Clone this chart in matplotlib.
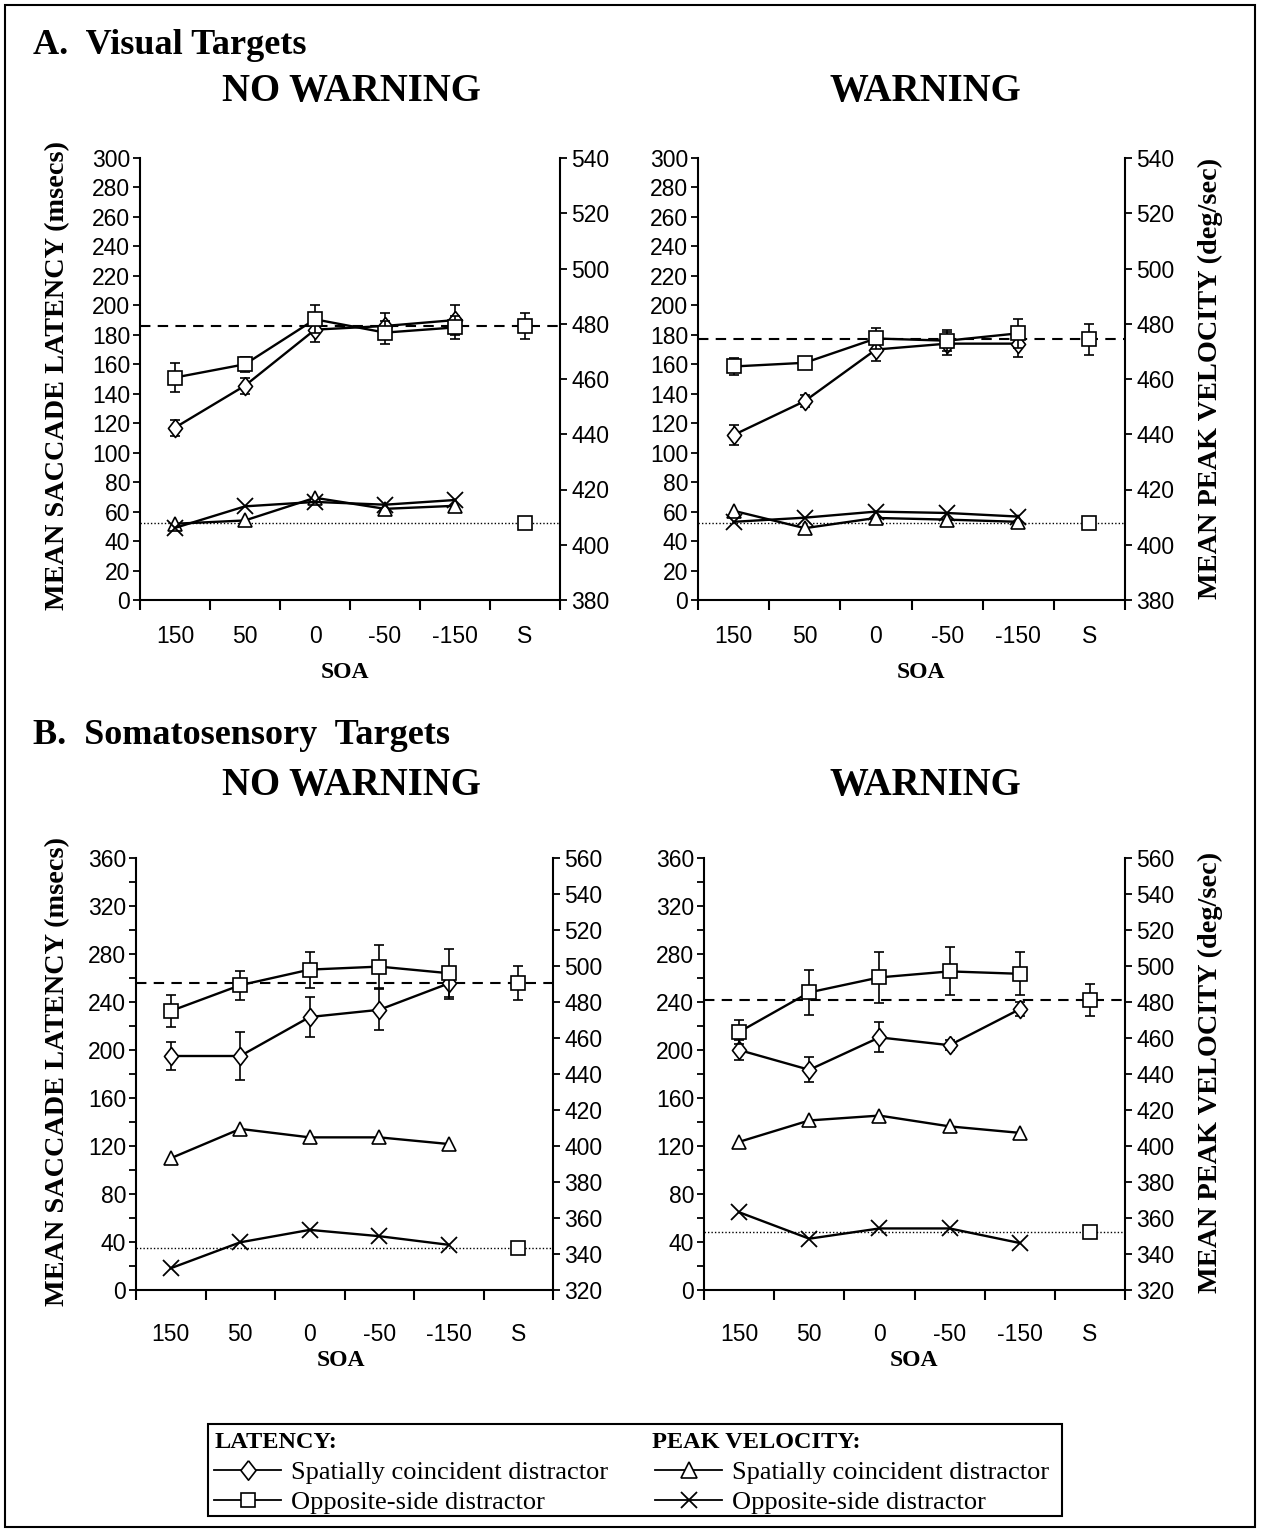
import matplotlib
matplotlib.use('Agg')
import matplotlib.pyplot as plt
from matplotlib.lines import Line2D
from matplotlib.patches import Rectangle
import numpy as np

plt.rcParams['font.family'] = ['Liberation Sans', 'DejaVu Sans']

# ---------------- data ----------------
soa_labels = ['150', '50', '0', '-50', '-150', 'S']

# A. Visual targets, NO WARNING
a_nw_lat_coinc = [117, 145.5, 183.5, 186, 190]
a_nw_lat_coinc_err = [5.5, 5.5, 8.5, 9, 10]
a_nw_lat_opp = [151, 160, 190.5, 181.5, 185]
a_nw_lat_opp_err = [10, 5, 9.5, 8, 8]
a_nw_lat_single = 186
a_nw_lat_single_err = 9
a_nw_vel_coinc = [407.6, 408.8, 417.0, 413.0, 414.1]
a_nw_vel_opp = [406.1, 413.9, 415.5, 414.5, 416.2]
a_nw_vel_single = 407.8

# A. Visual targets, WARNING
a_w_lat_coinc = [112, 135, 170, 174, 174]
a_w_lat_coinc_err = [6.5, 4, 8, 8, 9]
a_w_lat_opp = [158.5, 161, 177.5, 176, 181]
a_w_lat_opp_err = [6, 2, 7, 7, 10]
a_w_lat_single = 177
a_w_lat_single_err = 10.5
a_w_vel_coinc = [412.3, 406.0, 409.7, 409.1, 408.3]
a_w_vel_opp = [408.3, 409.8, 412.0, 411.5, 410.2]
a_w_vel_single = 407.8

# B. Somatosensory targets, NO WARNING
b_nw_lat_coinc = [195, 195, 227.5, 233.5, 255.5]
b_nw_lat_coinc_err = [12, 20, 17, 17, 13]
b_nw_lat_opp = [232.5, 254, 267, 269.5, 264]
b_nw_lat_opp_err = [13.5, 12, 15, 18, 20]
b_nw_lat_single = 256
b_nw_lat_single_err = 14
b_nw_vel_coinc = [393.2, 409.5, 404.8, 404.8, 401.1]
b_nw_vel_opp = [332.1, 346.5, 353.4, 349.9, 345.1]
b_nw_vel_single = 343.5

# B. Somatosensory targets, WARNING
b_w_lat_coinc = [200, 183.5, 210.5, 204, 234]
b_w_lat_coinc_err = [8, 10.5, 12.5, 4, 6]
b_w_lat_opp = [215, 248, 260.5, 265.5, 263.5]
b_w_lat_opp_err = [10, 19, 21.5, 20, 18]
b_w_lat_single = 241.5
b_w_lat_single_err = 13.5
b_w_vel_coinc = [402.3, 414.2, 416.9, 410.9, 407.3]
b_w_vel_opp = [363.2, 348.5, 354.2, 354.2, 346.1]
b_w_vel_single = 352

# ---------------- figure ----------------
W, H = 1261, 1531
fig = plt.figure(figsize=(W / 100, H / 100), dpi=100)

SERIF = ['Liberation Serif', 'DejaVu Serif']
TICKFS = 16.5
LW = 1.7
DIAMOND = [(0, 1), (0.78, 0), (0, -1), (-0.78, 0), (0, 1)]


def fx(px):
    return px / W


def fy(py):
    return 1 - py / H


def rect(x0, y0, x1, y1):
    return [fx(x0), fy(y1), fx(x1) - fx(x0), (y1 - y0) / H]


def panel(r, lat_lim, lat_major, lat_minor, vel_lim, vel_ticks,
          lat_c, lat_c_err, lat_o, lat_o_err, lat_s, lat_s_err,
          vel_c, vel_o, vel_s, xpad):
    ax = fig.add_axes(r)
    n = len(lat_c)
    x = np.arange(n) + 0.5
    xs = n + 0.5
    ax.set_xlim(0, n + 1)
    ax.set_ylim(*lat_lim)

    ax.axhline(lat_s, color='k', lw=1.5, ls=(0, (5, 3.5)), zorder=1)

    common = dict(color='k', mfc='white', mec='k', mew=1.2,
                  ecolor='k', elinewidth=1.2, capsize=3.5, capthick=1.2)
    ax.errorbar(x, lat_c, yerr=lat_c_err, marker=DIAMOND, ms=13, lw=LW,
                zorder=3, **common)
    ax.errorbar(x, lat_o, yerr=lat_o_err, marker='s', ms=10, lw=LW,
                zorder=4, **common)
    ax.errorbar([xs], [lat_s], yerr=[lat_s_err], marker='s', ms=10,
                ls='none', zorder=4, **common)

    ax2 = ax.twinx()
    ax2.set_ylim(*vel_lim)
    ax2.axhline(vel_s, color='k', lw=1.0, ls=(0, (1, 1.5)), zorder=1)
    ax2.plot(x, vel_c, color='k', lw=LW, marker='^', ms=10, mfc='white',
             mec='k', mew=1.2, zorder=3)
    ax2.plot(x, vel_o, color='k', lw=LW, marker='x', ms=11, mec='k',
             mew=1.3, zorder=3)
    ax2.plot([xs], [vel_s], ls='none', marker='s', ms=10, mfc='white',
             mec='k', mew=1.2, zorder=4)

    for a in (ax, ax2):
        a.spines['top'].set_visible(False)
        for s in a.spines.values():
            s.set_linewidth(1.5)
    ax.spines['right'].set_visible(False)
    ax2.spines['left'].set_visible(False)
    ax2.spines['bottom'].set_visible(False)

    ax.set_yticks(lat_major)
    if lat_minor is not None:
        ax.set_yticks(lat_minor, minor=True)
    ax.tick_params(axis='y', which='both', direction='out', length=5,
                   width=1.3, labelsize=TICKFS, pad=2)
    ax2.set_yticks(vel_ticks)
    ax2.tick_params(axis='y', direction='out', length=5, width=1.3,
                    labelsize=TICKFS, pad=3)

    ax.set_xticks(range(n + 2))
    ax.set_xticklabels([])
    ax.set_xticks(list(x) + [xs], minor=True)
    ax.set_xticklabels(soa_labels, minor=True)
    ax.tick_params(axis='x', which='major', direction='out', length=7,
                   width=1.5)
    ax.tick_params(axis='x', which='minor', length=0, labelsize=TICKFS,
                   pad=xpad)
    return ax, ax2


panel(rect(140, 158, 560, 600), (0, 300), range(0, 301, 20), None,
      (380, 540), range(380, 541, 20),
      a_nw_lat_coinc, a_nw_lat_coinc_err, a_nw_lat_opp, a_nw_lat_opp_err,
      a_nw_lat_single, a_nw_lat_single_err,
      a_nw_vel_coinc, a_nw_vel_opp, a_nw_vel_single, 18)
panel(rect(698, 158, 1125, 600), (0, 300), range(0, 301, 20), None,
      (380, 540), range(380, 541, 20),
      a_w_lat_coinc, a_w_lat_coinc_err, a_w_lat_opp, a_w_lat_opp_err,
      a_w_lat_single, a_w_lat_single_err,
      a_w_vel_coinc, a_w_vel_opp, a_w_vel_single, 18)
panel(rect(136, 858, 553, 1290), (0, 360), range(0, 361, 40), range(0, 361, 20),
      (320, 560), range(320, 561, 20),
      b_nw_lat_coinc, b_nw_lat_coinc_err, b_nw_lat_opp, b_nw_lat_opp_err,
      b_nw_lat_single, b_nw_lat_single_err,
      b_nw_vel_coinc, b_nw_vel_opp, b_nw_vel_single, 24)
panel(rect(704, 858, 1125, 1290), (0, 360), range(0, 361, 40), range(0, 361, 20),
      (320, 560), range(320, 561, 20),
      b_w_lat_coinc, b_w_lat_coinc_err, b_w_lat_opp, b_w_lat_opp_err,
      b_w_lat_single, b_w_lat_single_err,
      b_w_vel_coinc, b_w_vel_opp, b_w_vel_single, 24)


# ---------------- texts ----------------
def t(x, y, s, size, **kw):
    fig.text(fx(x), fy(y), s, fontsize=size, family=SERIF, fontweight='bold',
             **kw)


t(33, 45, 'A.  Visual Targets', 26, ha='left', va='center')
t(33, 735, 'B.  Somatosensory  Targets', 26, ha='left', va='center')
t(351, 92, 'NO WARNING', 28, ha='center', va='center')
t(925, 92, 'WARNING', 28, ha='center', va='center')
t(351, 785, 'NO WARNING', 28, ha='center', va='center')
t(925, 785, 'WARNING', 28, ha='center', va='center')
t(345, 673, 'SOA', 17, ha='center', va='center')
t(921, 673, 'SOA', 17, ha='center', va='center')
t(341, 1360, 'SOA', 17, ha='center', va='center')
t(914, 1360, 'SOA', 17, ha='center', va='center')
t(58, 375, 'MEAN SACCADE LATENCY (msecs)', 20.3, ha='center', va='center', rotation=90)
t(58, 1072, 'MEAN SACCADE LATENCY (msecs)', 20.3, ha='center', va='center', rotation=90)
t(1210, 378, 'MEAN PEAK VELOCITY (deg/sec)', 20.3, ha='center', va='center', rotation=90)
t(1210, 1072, 'MEAN PEAK VELOCITY (deg/sec)', 20.3, ha='center', va='center', rotation=90)

fig.patches.append(Rectangle((fx(5), fy(1527)), fx(1255) - fx(5), (1527 - 5) / H,
                             transform=fig.transFigure, fill=False,
                             lw=1.5, ec='k'))

# ---------------- legend ----------------
LX0, LY0, LX1, LY1 = 208, 1424, 1062, 1516
lax = fig.add_axes(rect(LX0, LY0, LX1, LY1))
lax.set_axis_off()
lax.add_patch(Rectangle((0, 0), 1, 1, transform=lax.transAxes, fill=False,
                        lw=1.5, ec='k', clip_on=False))


def lx(px):
    return (px - LX0) / (LX1 - LX0)


def ly(py):
    return 1 - (py - LY0) / (LY1 - LY0)


lax.text(lx(215), ly(1443), 'LATENCY:', fontsize=17.5, family=SERIF,
         fontweight='bold', ha='left', va='center', transform=lax.transAxes)
lax.text(lx(652), ly(1443), 'PEAK VELOCITY:', fontsize=17.5, family=SERIF,
         fontweight='bold', ha='left', va='center', transform=lax.transAxes)

h_lat = [Line2D([], [], color='k', lw=1.3, marker=DIAMOND, ms=14, mfc='white', mec='k', mew=1.2),
         Line2D([], [], color='k', lw=1.3, marker='s', ms=10, mfc='white', mec='k', mew=1.2)]
h_vel = [Line2D([], [], color='k', lw=1.3, marker='^', ms=11, mfc='white', mec='k', mew=1.2),
         Line2D([], [], color='k', lw=1.3, marker='x', ms=11, mec='k', mew=1.3)]
legend_labels = ['Spatially coincident distractor', 'Opposite-side distractor']
lp = dict(frameon=False, handlelength=2.55, handletextpad=0.35, labelspacing=0.22,
          borderpad=0, borderaxespad=0, loc='upper left',
          prop={'family': SERIF, 'size': 19})
leg1 = lax.legend(h_lat, legend_labels, bbox_to_anchor=(lx(214), ly(1461)), **lp)
lax.add_artist(leg1)
lax.legend(h_vel, legend_labels, bbox_to_anchor=(lx(655), ly(1461)), **lp)

fig.savefig('out.png', dpi=100)
